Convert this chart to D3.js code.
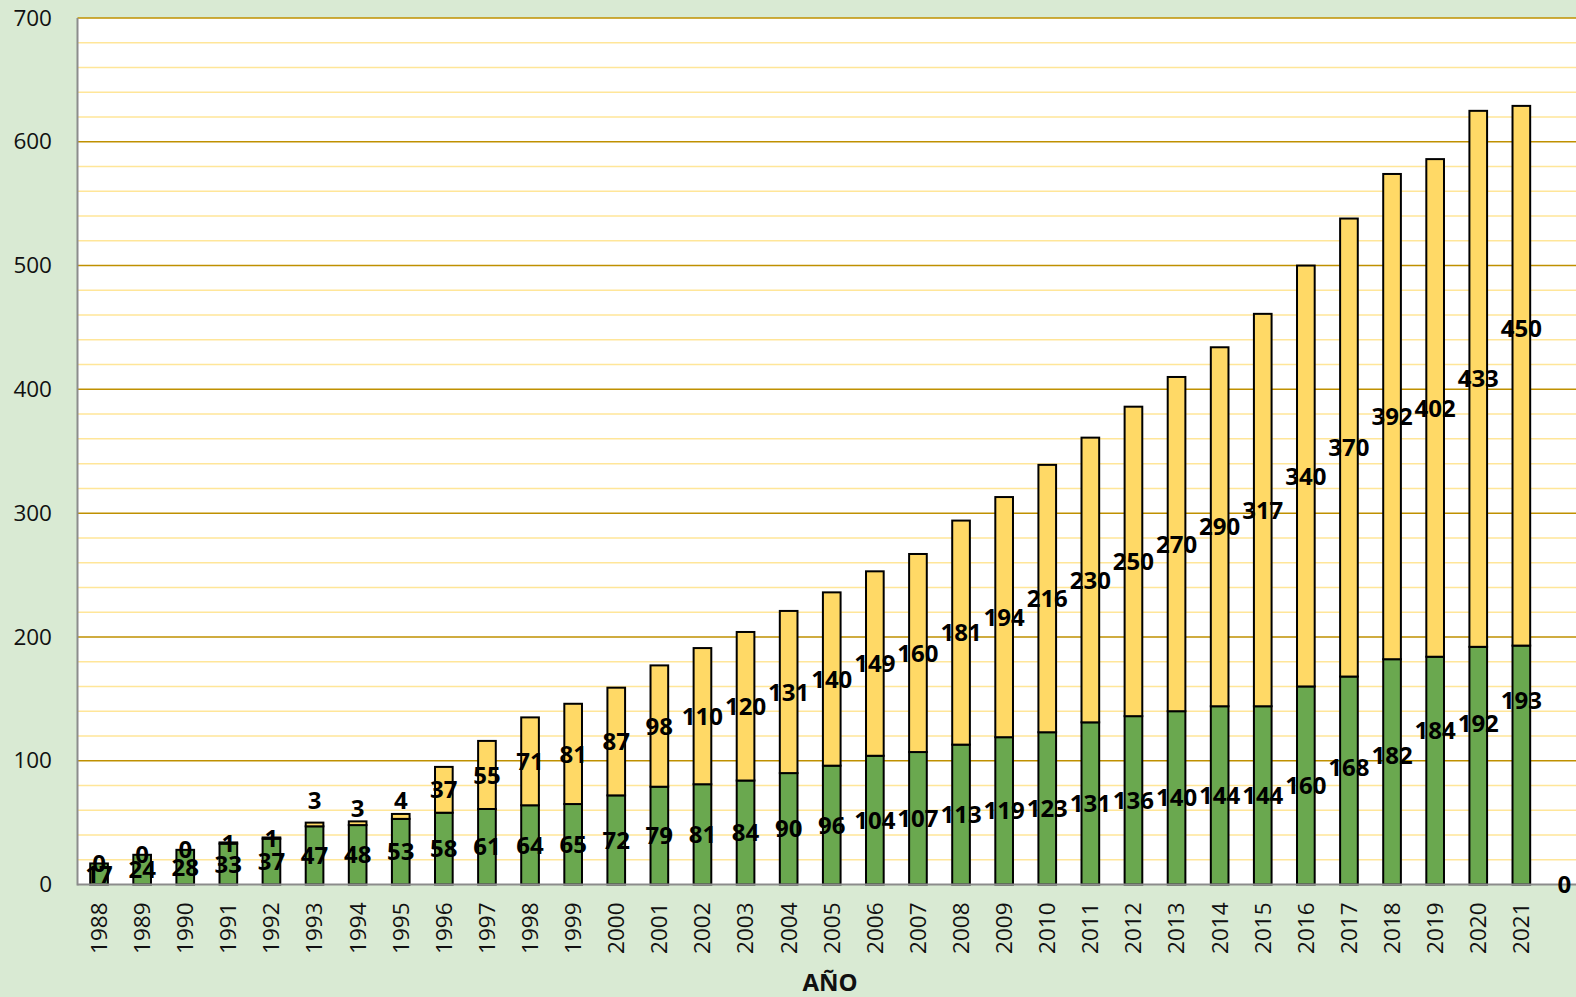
<!DOCTYPE html>
<html>
<head>
<meta charset="utf-8">
<script src="https://cdn.jsdelivr.net/npm/d3@7"></script>
<style>
body{margin:0;background:#d9ead3}
text{font-family:"Open Sans",sans-serif}
</style>
</head>
<body>
<script>
var years = ["1988","1989","1990","1991","1992","1993","1994","1995","1996","1997","1998","1999","2000","2001","2002","2003","2004","2005","2006","2007","2008","2009","2010","2011","2012","2013","2014","2015","2016","2017","2018","2019","2020","2021",""]
var greenValues = [17,24,28,33,37,47,48,53,58,61,64,65,72,79,81,84,90,96,104,107,113,119,123,131,136,140,144,144,160,168,182,184,192,193,0]
// bar heights (2021 bar is drawn shorter than its label says)
var yellowValues = [0,0,0,1,1,3,3,4,37,55,71,81,87,98,110,120,131,140,149,160,181,194,216,230,250,270,290,317,340,370,392,402,433,436,null]
var yellowLabels = ["0","0","0","1","1","3","3","4","37","55","71","81","87","98","110","120","131","140","149","160","181","194","216","230","250","270","290","317","340","370","392","402","433","450",null]
var yTicks = [0,100,200,300,400,500,600,700]

var width = 1576
var height = 997
var plotLeft = 77.5, plotTop = 18, plotBottom = 884.5
var step = 43.1

// labels that were dragged away from the segment centre in the original
var greenNudge = {"2017":-13,"2018":-16,"2019":-40,"2020":-42,"2021":-65}
var yellowNudge = {"1993":-24,"1994":-15,"1995":-16,"2021":-47}

var svg = d3.select("body").append("svg")
	.attr("width",width)
	.attr("height",height)
	.style("display","block")

svg.append("rect").attr("width",width).attr("height",height).attr("fill","#d9ead3")

var x = d3.scaleBand().domain(years)
	.range([plotLeft,plotLeft+years.length*step])
	.paddingInner(0.59).paddingOuter(0.295)
var y = d3.scaleLinear().domain([0,700]).range([plotBottom,plotTop])

svg.append("rect")
	.attr("x",plotLeft).attr("y",plotTop)
	.attr("width",width-plotLeft).attr("height",plotBottom-plotTop)
	.attr("fill","#ffffff")

// minor grid
svg.append("g").selectAll("line")
	.data(d3.range(20,700,20).filter(function(d){return d%100!=0}))
	.enter().append("line")
	.attr("x1",plotLeft).attr("x2",width)
	.attr("y1",function(d){return y(d)}).attr("y2",function(d){return y(d)})
	.attr("stroke","#ffe699").attr("stroke-width",1.5)

// major grid
svg.append("g").selectAll("line")
	.data(yTicks.slice(1))
	.enter().append("line")
	.attr("x1",plotLeft).attr("x2",width)
	.attr("y1",function(d){return y(d)}).attr("y2",function(d){return y(d)})
	.attr("stroke","#bf9000").attr("stroke-width",1.5)

var rows = years.map(function(d,i){
	return {year:d,g:greenValues[i],yv:yellowValues[i],yl:yellowLabels[i]}
})

var bars = svg.append("g")
bars.selectAll(".green")
	.data(rows.filter(function(d){return d.g>0}))
	.enter().append("rect")
	.attr("class","green")
	.attr("x",function(d){return x(d.year)})
	.attr("width",x.bandwidth())
	.attr("y",function(d){return y(d.g)})
	.attr("height",function(d){return y(0)-y(d.g)})
	.attr("fill","#6aa84f").attr("stroke","#000").attr("stroke-width",2)

bars.selectAll(".yellow")
	.data(rows.filter(function(d){return d.yv>0}))
	.enter().append("rect")
	.attr("class","yellow")
	.attr("x",function(d){return x(d.year)})
	.attr("width",x.bandwidth())
	.attr("y",function(d){return y(d.g+d.yv)})
	.attr("height",function(d){return y(d.g)-y(d.g+d.yv)})
	.attr("fill","#ffd966").attr("stroke","#000").attr("stroke-width",2)

// axes
var yAxis = d3.axisLeft(y).tickValues(yTicks).tickSize(0).tickPadding(0)
svg.append("g")
	.attr("transform","translate(52,0)")
	.call(yAxis)
	.call(function(g){g.select(".domain").remove()})
	.selectAll("text")
	.style("font-size","22.5px").attr("fill","#111")

var xAxis = d3.axisBottom(x).tickSize(0)
var xg = svg.append("g")
	.attr("transform","translate(0,"+plotBottom+")")
	.call(xAxis)
xg.select(".domain").remove()
xg.selectAll("text")
	.style("font-size","22.5px").attr("fill","#111")
	.attr("transform","rotate(-90)")
	.attr("text-anchor","end")
	.attr("x",-18).attr("y",0).attr("dy","0.35em")

svg.append("line")
	.attr("x1",plotLeft).attr("x2",plotLeft).attr("y1",plotTop).attr("y2",plotBottom+1)
	.attr("stroke","#8c8c8c").attr("stroke-width",2)
svg.append("line")
	.attr("x1",plotLeft).attr("x2",width).attr("y1",plotBottom).attr("y2",plotBottom)
	.attr("stroke","#8c8c8c").attr("stroke-width",2)

// data labels
var lab = svg.append("g")
	.style("font-size","24px").style("font-weight","bold")
	.attr("text-anchor","middle").attr("fill","#000")

lab.selectAll(".gl")
	.data(rows)
	.enter().append("text")
	.attr("x",function(d){return x(d.year)+x.bandwidth()/2})
	.attr("y",function(d){return y(d.g/2)+(greenNudge[d.year]||0)})
	.attr("dy","0.36em")
	.text(function(d){return d.g})

lab.selectAll(".yl")
	.data(rows.filter(function(d){return d.yl!=null}))
	.enter().append("text")
	.attr("x",function(d){return x(d.year)+x.bandwidth()/2})
	.attr("y",function(d){return y(d.g+d.yv/2)+(yellowNudge[d.year]||0)})
	.attr("dy","0.36em")
	.text(function(d){return d.yl})

svg.append("text")
	.attr("x",830).attr("y",991)
	.attr("text-anchor","middle")
	.style("font-size","24px").style("font-weight","bold")
	.attr("fill","#111")
	.text("AÑO")
</script>
</body>
</html>
